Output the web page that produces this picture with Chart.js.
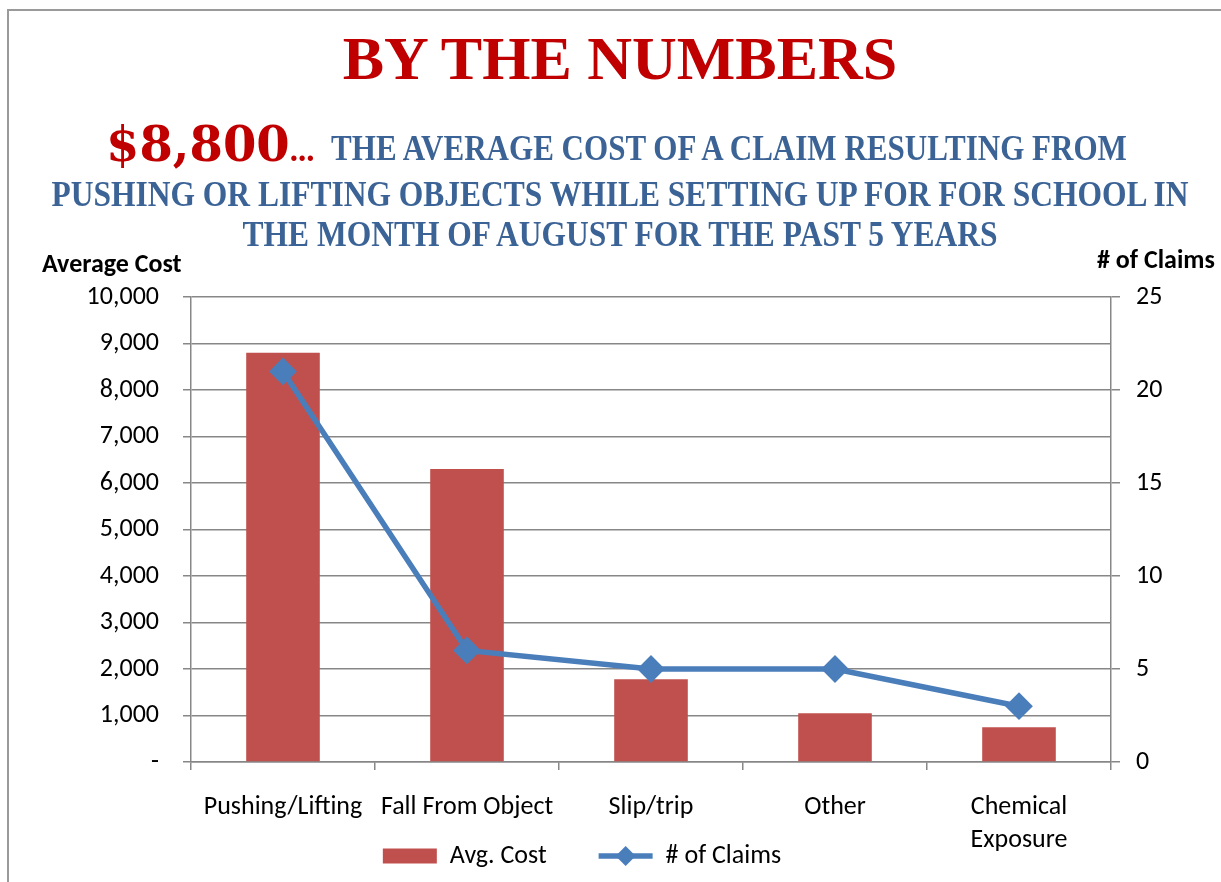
<!DOCTYPE html>
<html>
<head>
<meta charset="utf-8">
<script src="https://cdn.jsdelivr.net/npm/chart.js@4.4.1/dist/chart.umd.min.js"></script>
<style>
  html, body { margin: 0; padding: 0; background: #fff; }
  #wrap { position: relative; width: 1221px; height: 882px; overflow: hidden; }
  #frame { position: absolute; left: 7px; top: 9px; width: 1230px; height: 900px;
           border-top: 2px solid #9a9a9a; border-left: 2px solid #9a9a9a; }
  #chart { position: absolute; left: 0; top: 0; }
  .hd { position: absolute; white-space: nowrap; text-align: center;
        font-family: "Liberation Serif", serif; font-weight: bold; }
  #title { left: 0; width: 1240px; top: 23px; font-size: 62px; line-height: 70px; color: #c00000; }
  .blue { color: #3b6396; font-size: 36px; line-height: 40px; }
  #big { left: 106px; top: 116px; text-align: left; color: #c00000; font-size: 33px; line-height: 56px; }
  #big .num { font-family: "DejaVu Serif", serif; font-size: 48px; }
  #line2 { left: -271px; width: 2000px; top: 128px; transform: scaleX(0.862); transform-origin: 1000px 0; }
  #line3 { left: -380px; width: 2000px; top: 174px; transform: scaleX(0.875); transform-origin: 1000px 0; }
  #line4 { left: -380px; width: 2000px; top: 214px; transform: scaleX(0.875); transform-origin: 1000px 0; }
  .axt { position: absolute; font-family: Carlito, Lato, sans-serif; font-weight: bold; font-size: 26px;
         line-height: 32px; color: #000; white-space: nowrap; }
</style>
</head>
<body>
<div id="wrap">
  <canvas id="chart" width="1221" height="882"></canvas>
  <div id="frame"></div>
  <div id="title" class="hd">BY THE NUMBERS</div>
  <div id="big" class="hd"><span class="num">$8,800</span>...</div>
  <div id="line2" class="hd blue">THE AVERAGE COST OF A CLAIM RESULTING FROM</div>
  <div id="line3" class="hd blue">PUSHING OR LIFTING OBJECTS WHILE SETTING UP FOR FOR SCHOOL IN</div>
  <div id="line4" class="hd blue">THE MONTH OF AUGUST FOR THE PAST 5 YEARS</div>
  <div class="axt" style="left:42px; top:247px;">Average Cost</div>
  <div class="axt" style="left:1097px; top:243px;"># of Claims</div>
</div>
<script>
// chart data
const categories = ['Pushing/Lifting', 'Fall From Object', 'Slip/trip', 'Other', ['Chemical', 'Exposure']];
const avgCost = [8800, 6300, 1780, 1050, 750];
const claimCounts = [21, 6, 5, 5, 3];
const costMax = 10000, costStep = 1000;
const claimsMax = 25, claimsStep = 5;

const gridGray = '#878787';
const lineBlue = '#4a7ebb';
const tickFont = { family: 'Carlito, Lato, sans-serif', size: 26, lineHeight: 1.27 };

// legend: draw the diamond on the line entry
const legendDiamond = {
  id: 'legendDiamond',
  afterDraw(chart) {
    const lg = chart.legend;
    if (!lg || !lg.legendHitBoxes[1]) return;
    const hb = lg.legendHitBoxes[1];
    const cx = hb.left + 54 / 2, cy = hb.top + hb.height / 2;
    const ctx = chart.ctx;
    ctx.save();
    ctx.fillStyle = lineBlue;
    ctx.beginPath();
    ctx.moveTo(cx, cy - 10); ctx.lineTo(cx + 10, cy); ctx.lineTo(cx, cy + 10); ctx.lineTo(cx - 10, cy);
    ctx.closePath();
    ctx.fill();
    ctx.restore();
  }
};

const ctx = document.getElementById('chart').getContext('2d');
new Chart(ctx, {
  data: {
    labels: categories,
    datasets: [
      {
        type: 'line',
        label: '# of Claims',
        data: claimCounts,
        yAxisID: 'y1',
        borderColor: lineBlue,
        backgroundColor: lineBlue,
        borderWidth: 5.5,
        pointStyle: 'rectRot',
        pointRadius: 10,
        pointBackgroundColor: lineBlue,
        pointBorderColor: lineBlue,
        tension: 0,
        order: 0
      },
      {
        type: 'bar',
        label: 'Avg. Cost',
        data: avgCost,
        yAxisID: 'y',
        backgroundColor: '#c0504d',
        barPercentage: 0.4,
        categoryPercentage: 1,
        order: 1
      }
    ]
  },
  options: {
    responsive: false,
    animation: false,
    layout: { padding: { top: 297, left: 0, right: 57, bottom: 3 } },
    plugins: {
      title: { display: false },
      tooltip: { enabled: false },
      legend: {
        position: 'bottom',
        labels: {
          font: { family: 'Carlito, Lato, sans-serif', size: 26 },
          color: '#000',
          usePointStyle: true,
          pointStyleWidth: 54,
          boxHeight: 15,
          padding: 0,
          generateLabels(chart) {
            const items = Chart.defaults.plugins.legend.labels.generateLabels(chart);
            // bar first, then line
            items.sort((a, b) => a.datasetIndex === 1 ? -1 : 1);
            items.forEach(it => {
              if (it.datasetIndex === 1) {
                it.pointStyle = 'rect';
                it.text = 'Avg. Cost\u2003\u2003';
                it.lineWidth = 0;
              } else {
                it.pointStyle = 'line';
                it.lineWidth = 5.5;
              }
            });
            return items;
          }
        }
      }
    },
    scales: {
      x: {
        grid: { drawOnChartArea: false, offset: true, color: gridGray, lineWidth: 1.5, tickLength: 8 },
        border: { color: gridGray, width: 1.5 },
        ticks: { font: tickFont, color: '#000', padding: 21, maxRotation: 0, autoSkip: false },
        afterFit(scale) {
          scale.height = 81;
          // let the two-line label run below the axis box
          scale._computeLabelArea = () => undefined;
        }
      },
      y: {
        position: 'left',
        min: 0,
        max: costMax,
        grid: { color: gridGray, lineWidth: 1.5, tickLength: 8 },
        border: { color: gridGray, width: 1.5 },
        ticks: {
          stepSize: costStep,
          font: tickFont,
          color: '#000',
          padding: 24,
          callback: v => v === 0 ? '-' : v.toLocaleString('en-US')
        },
        afterFit(scale) { scale.width = 191; }
      },
      y1: {
        position: 'right',
        min: 0,
        max: claimsMax,
        grid: { drawOnChartArea: false, color: gridGray, lineWidth: 1.5, tickLength: 9 },
        border: { color: gridGray, width: 1.5 },
        ticks: { stepSize: claimsStep, font: tickFont, color: '#000', padding: 16 },
        afterFit(scale) { scale.width = 1221 - 57 - 1111; }
      }
    }
  },
  plugins: [legendDiamond]
});
</script>
</body>
</html>
